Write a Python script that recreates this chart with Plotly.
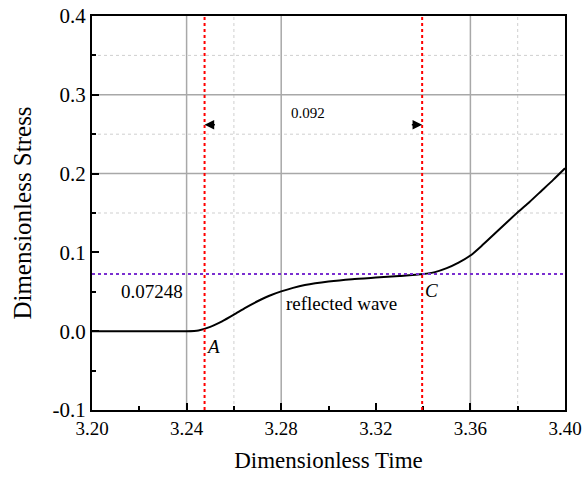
import plotly.graph_objects as go

# Data
time = [3.200, 3.220, 3.240, 3.245, 3.250, 3.255, 3.260, 3.265, 3.270, 3.275, 3.280,
        3.285, 3.290, 3.300, 3.310, 3.320, 3.330, 3.340, 3.345, 3.350, 3.355, 3.360,
        3.365, 3.370, 3.375, 3.380, 3.385, 3.390, 3.395, 3.400]
stress = [0.0, 0.0, 0.0, 0.001, 0.0055, 0.0125, 0.021, 0.030, 0.038, 0.045, 0.0505,
          0.055, 0.0585, 0.063, 0.066, 0.068, 0.070, 0.0725, 0.075, 0.080, 0.087, 0.096,
          0.109, 0.123, 0.137, 0.151, 0.164, 0.178, 0.192, 0.2067]

t_A = 3.2476
t_C = 3.3396
level = 0.07248
y_ticks = [-0.1, 0.0, 0.1, 0.2, 0.3, 0.4]
y_tick_labels = ["-0.1", "0.0", "0.1", "0.2", "0.3", "0.4"]
major_vgrid = [3.24, 3.28, 3.36]
minor_vgrid = [3.26, 3.38]
major_hgrid = [0.2, 0.3]
minor_hgrid = [0.15, 0.25, 0.35]

FONT = "Liberation Serif, Times New Roman, serif"

fig = go.Figure()
fig.add_trace(go.Scatter(x=time, y=stress, mode="lines",
                         line=dict(color="black", width=2, shape="spline", smoothing=0.6),
                         showlegend=False, hoverinfo="skip"))

shapes = []
for v in major_vgrid:
    shapes.append(dict(type="line", xref="x", yref="paper", x0=v, x1=v, y0=0, y1=1,
                       line=dict(color="#a8a8a8", width=1.5), layer="below"))
for v in minor_vgrid:
    shapes.append(dict(type="line", xref="x", yref="paper", x0=v, x1=v, y0=0, y1=1,
                       line=dict(color="#cfcfcf", width=1, dash="dot"), layer="below"))
for h in major_hgrid:
    shapes.append(dict(type="line", xref="paper", yref="y", x0=0, x1=1, y0=h, y1=h,
                       line=dict(color="#a8a8a8", width=1.5), layer="below"))
for h in minor_hgrid:
    shapes.append(dict(type="line", xref="paper", yref="y", x0=0, x1=1, y0=h, y1=h,
                       line=dict(color="#cfcfcf", width=1, dash="dot"), layer="below"))
for t in (t_A, t_C):
    shapes.append(dict(type="line", xref="x", yref="paper", x0=t, x1=t, y0=0, y1=1,
                       line=dict(color="#ff0000", width=2, dash="dot")))
shapes.append(dict(type="line", xref="paper", yref="y", x0=0, x1=1, y0=level, y1=level,
                   line=dict(color="#7a2fd0", width=2, dash="dot")))

annotations = [
    dict(x=t_A, y=0.262, ax=t_A + 0.005, ay=0.262, xref="x", yref="y", axref="x", ayref="y",
         text="", showarrow=True, arrowhead=2, arrowsize=1.2, arrowwidth=1.6, arrowcolor="black"),
    dict(x=t_C, y=0.262, ax=t_C - 0.005, ay=0.262, xref="x", yref="y", axref="x", ayref="y",
         text="", showarrow=True, arrowhead=2, arrowsize=1.2, arrowwidth=1.6, arrowcolor="black"),
    dict(x=3.2913, y=0.2775, text="0.092", showarrow=False, font=dict(size=15, family=FONT, color="black")),
    dict(x=3.2252, y=0.0505, text="0.07248", showarrow=False, font=dict(size=19, family=FONT, color="black")),
    dict(x=3.3053, y=0.0356, text="reflected wave", showarrow=False, font=dict(size=19, family=FONT, color="black")),
    dict(x=3.2512, y=-0.020, text="<i>A</i>", showarrow=False, font=dict(size=19, family=FONT, color="black")),
    dict(x=3.3436, y=0.052, text="<i>C</i>", showarrow=False, font=dict(size=19, family=FONT, color="black")),
]

fig.update_layout(
    width=582, height=477,
    margin=dict(l=92, r=17, t=16, b=67),
    plot_bgcolor="white", paper_bgcolor="white",
    font=dict(family=FONT, size=18, color="black"),
    shapes=shapes, annotations=annotations,
    xaxis=dict(range=[3.20, 3.40], tick0=3.20, dtick=0.04, tickformat=".2f", automargin=False,
               showgrid=False, zeroline=False, showline=True, linecolor="black", linewidth=2,
               mirror=True, ticks="inside", ticklen=7, tickwidth=2, tickcolor="black",
               minor=dict(ticks="inside", dtick=0.02, ticklen=4, tickwidth=1.5, tickcolor="black", showgrid=False),
               tickfont=dict(size=19, family=FONT),
               title=dict(text="Dimensionless Time", font=dict(size=23, family=FONT), standoff=14)),
    yaxis=dict(range=[-0.1, 0.4], tickvals=y_ticks, ticktext=y_tick_labels, automargin=False,
               showgrid=False, zeroline=False, showline=True, linecolor="black", linewidth=2,
               mirror=True, ticks="inside", ticklen=7, tickwidth=2, tickcolor="black",
               minor=dict(ticks="inside", dtick=0.05, ticklen=4, tickwidth=1.5, tickcolor="black", showgrid=False),
               tickfont=dict(size=21, family=FONT),
               title=dict(text="Dimensionless Stress", font=dict(size=25, family=FONT), standoff=14)),
)

fig.write_html("out.html")
